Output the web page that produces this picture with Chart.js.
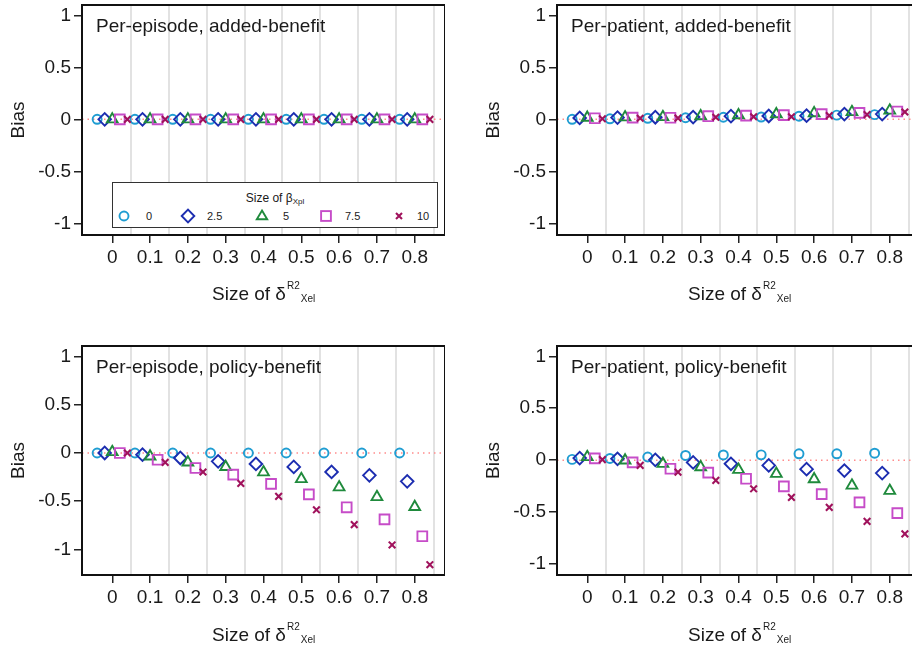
<!DOCTYPE html>
<html>
<head>
<meta charset="utf-8">
<script src="https://cdn.jsdelivr.net/npm/chart.js@4.4.1/dist/chart.umd.min.js"></script>
<style>
  html, body { margin: 0; padding: 0; background: #fff; overflow: hidden; width: 912px; height: 652px; }
  body { position: relative; font-family: 'Liberation Sans', Arial, sans-serif; color: #1a1a1a; }
  .panel { position: absolute; width: 445px; height: 326px; }
  .ptitle, .xtitle { position: absolute; font-size: 19px; line-height: 19px; white-space: nowrap; }
  .xtitle .sup, .xtitle .sub { position: relative; font-size: 10px; margin-left: 1px; }
  .xtitle .sup { top: -11.5px; }
  .xtitle .sub { top: 2px; }
  #legend { position: absolute; left: 112px; top: 182px; width: 326px; height: 46px; box-sizing: border-box;
            border: 1.5px solid #333; background: #fff; }
  #legend .ltitle { position: absolute; left: 0; right: 0; top: 9px; text-align: center; font-size: 12px; line-height: 12px; }
  #legend .ltitle sub { font-size: 8px; vertical-align: -2px; }
  #legend .item { position: absolute; top: 24px; height: 18px; }
  #legend .lab { position: absolute; font-size: 11px; line-height: 18px; top: 0; color: #222; }
</style>
</head>
<body>

<div class="panel" style="left:0px;top:0px"><canvas id="c1"></canvas></div>
<div class="panel" style="left:475px;top:0px"><canvas id="c2"></canvas></div>
<div class="panel" style="left:0px;top:341px"><canvas id="c3"></canvas></div>
<div class="panel" style="left:475px;top:341px"><canvas id="c4"></canvas></div>

<div class="ptitle" style="left:96px;top:15.5px">Per-episode, added-benefit</div>
<div class="ptitle" style="left:571px;top:15.5px">Per-patient, added-benefit</div>
<div class="ptitle" style="left:96px;top:357px">Per-episode, policy-benefit</div>
<div class="ptitle" style="left:571px;top:357px">Per-patient, policy-benefit</div>

<div class="xtitle" style="left:212px;top:284px">Size of δ<span class="sup">R2</span><span class="sub">Xel</span></div>
<div class="xtitle" style="left:688px;top:284px">Size of δ<span class="sup">R2</span><span class="sub">Xel</span></div>
<div class="xtitle" style="left:212px;top:625px">Size of δ<span class="sup">R2</span><span class="sub">Xel</span></div>
<div class="xtitle" style="left:688px;top:625px">Size of δ<span class="sup">R2</span><span class="sub">Xel</span></div>

<div id="legend"><div class="ltitle">Size of β<sub>Xpl</sub></div></div>

<script>
// x categories (size of delta R2) and legend levels (size of beta)
const deltaR2 = [0, 0.1, 0.2, 0.3, 0.4, 0.5, 0.6, 0.7, 0.8];
const betaLevels = ['0', '2.5', '5', '7.5', '10'];
const yTicks = [-1, -0.5, 0, 0.5, 1];

// bias per panel, one row per beta level (0, 2.5, 5, 7.5, 10)
const episodeAdded = [
  [0, 0, 0, 0, 0, 0, 0, 0, 0],
  [0, 0, 0, 0, 0, 0, 0, 0, 0],
  [0, 0, 0, 0, 0, 0, 0, 0, 0],
  [0, 0, 0, 0, 0, 0, 0, 0, 0],
  [0, 0, 0, 0, 0, 0, 0, 0, 0]
];
const patientAdded = [
  [0, 0.005, 0.01, 0.015, 0.02, 0.022, 0.03, 0.04, 0.045],
  [0.013, 0.017, 0.02, 0.022, 0.03, 0.032, 0.035, 0.05, 0.05],
  [0.016, 0.02, 0.022, 0.03, 0.04, 0.05, 0.06, 0.07, 0.085],
  [0.01, 0.017, 0.015, 0.03, 0.035, 0.04, 0.05, 0.062, 0.075],
  [0.005, 0.01, 0.012, 0.02, 0.025, 0.025, 0.035, 0.045, 0.07]
];
const episodePolicy = [
  [0, 0, 0, 0, 0, 0, 0, 0, 0],
  [0, -0.017, -0.052, -0.087, -0.114, -0.145, -0.197, -0.232, -0.294],
  [0.01, -0.035, -0.097, -0.145, -0.2, -0.27, -0.356, -0.457, -0.56],
  [0, -0.07, -0.156, -0.225, -0.32, -0.43, -0.564, -0.69, -0.865],
  [0, -0.097, -0.197, -0.315, -0.45, -0.59, -0.744, -0.955, -1.16]
];
const patientPolicy = [
  [0.007, 0.016, 0.03, 0.045, 0.05, 0.051, 0.061, 0.061, 0.067],
  [0.02, 0.013, 0.003, -0.022, -0.035, -0.051, -0.087, -0.1, -0.125],
  [0.03, -0.003, -0.035, -0.067, -0.093, -0.131, -0.183, -0.244, -0.295],
  [0.017, -0.022, -0.083, -0.12, -0.179, -0.253, -0.327, -0.407, -0.51],
  [0.005, -0.05, -0.115, -0.195, -0.276, -0.359, -0.455, -0.59, -0.71]
];

// styling
const dodge = [-0.04, -0.02, 0, 0.02, 0.04];
const markers = [
  { style: 'circle',   color: '#1f9dd2', r: 4.5, w: 1.9 },
  { style: 'rectRot',  color: '#1c2db0', r: 6.3, w: 1.9 },
  { style: 'triangle', color: '#1f8a3c', r: 6.2, w: 1.9 },
  { style: 'rect',     color: '#c64cc8', r: 6.9, w: 1.9 },
  { style: 'crossRot', color: '#a0125c', r: 4.7, w: 2.1 }
];
const xMin = -0.08, xMax = 0.88;

Chart.defaults.font.family = "'Liberation Sans', Arial, sans-serif";
Chart.defaults.color = '#1a1a1a';

const framePlugin = {
  id: 'frame',
  afterDraw(chart) {
    const a = chart.chartArea, ctx = chart.ctx;
    ctx.save();
    ctx.strokeStyle = '#111';
    ctx.lineWidth = 2;
    ctx.strokeRect(a.left, a.top, a.right - a.left, a.bottom - a.top);
    ctx.restore();
  }
};

function makePanel(id, series, yMin, yMax, axisH) {
  const datasets = series.map((vals, i) => ({
    label: betaLevels[i],
    data: vals.map((v, j) => ({ x: deltaR2[j] + dodge[i], y: v })),
    pointStyle: markers[i].style,
    pointRadius: markers[i].r,
    pointBorderWidth: markers[i].w,
    borderColor: markers[i].color,
    backgroundColor: 'rgba(0,0,0,0)',
    order: 5 - i
  }));
  datasets.push({
    label: 'zero',
    data: [{ x: xMin, y: 0 }, { x: xMax, y: 0 }],
    showLine: true,
    borderColor: '#ff8c8c',
    borderWidth: 1.5,
    borderDash: [1.5, 4],
    pointRadius: 0,
    order: 10
  });

  new Chart(document.getElementById(id), {
    type: 'scatter',
    data: { datasets },
    plugins: [framePlugin],
    options: {
      responsive: true,
      maintainAspectRatio: false,
      animation: false,
      events: [],
      layout: { autoPadding: false, padding: { top: 5, left: 0, right: 0, bottom: 0 } },
      plugins: { legend: { display: false }, tooltip: { enabled: false } },
      scales: {
        x: {
          type: 'linear', min: xMin, max: xMax, position: 'bottom',
          afterBuildTicks: s => { s.ticks = deltaR2.map(v => ({ value: v })); },
          afterFit: s => { s.height = axisH; s.paddingLeft = 0; s.paddingRight = 0; },
          grid: { drawOnChartArea: false, drawTicks: true, tickLength: 8, color: '#222', lineWidth: 1.5 },
          border: { display: false },
          ticks: { autoSkip: false, maxRotation: 0, padding: 3, font: { size: 19 }, callback: v => String(v) }
        },
        xg: {
          type: 'linear', min: xMin, max: xMax, position: 'bottom',
          afterBuildTicks: s => { s.ticks = deltaR2.map(v => ({ value: v + 0.05 })); },
          afterFit: s => { s.height = 0; s.paddingLeft = 0; s.paddingRight = 0; },
          grid: { drawTicks: false, color: '#e2e2e2', lineWidth: 2 },
          border: { display: false },
          ticks: { display: false }
        },
        y: {
          type: 'linear', min: yMin, max: yMax,
          afterBuildTicks: s => { s.ticks = yTicks.map(v => ({ value: v })); },
          afterFit: s => { s.width = 82; s.paddingTop = 0; s.paddingBottom = 0; },
          grid: { drawOnChartArea: false, drawTicks: true, tickLength: 8, color: '#222', lineWidth: 1.5 },
          border: { display: false },
          ticks: { padding: 3, font: { size: 19 }, callback: v => String(v) },
          title: { display: true, text: 'Bias', font: { size: 19 }, padding: { top: 7, bottom: 0 } }
        }
      }
    }
  });
}

makePanel('c1', episodeAdded, -1.112, 1.099, 91);
makePanel('c2', patientAdded, -1.112, 1.099, 91);
makePanel('c3', episodePolicy, -1.267, 1.111, 92);
makePanel('c4', patientPolicy, -1.106, 1.099, 92);

// legend inside the first panel
function markerSvg(m) {
  const c = m.color, sw = m.w;
  let shape;
  if (m.style === 'circle') shape = `<circle cx="8" cy="8" r="4.5" fill="none" stroke="${c}" stroke-width="${sw}"/>`;
  else if (m.style === 'rectRot') shape = `<polygon points="1.7,8 8,1.7 14.3,8 8,14.3" fill="none" stroke="${c}" stroke-width="${sw}"/>`;
  else if (m.style === 'triangle') shape = `<polygon points="8,2.5 13.2,11.2 2.8,11.2" fill="none" stroke="${c}" stroke-width="${sw}"/>`;
  else if (m.style === 'rect') shape = `<rect x="3.1" y="3.1" width="9.8" height="9.8" fill="none" stroke="${c}" stroke-width="${sw}"/>`;
  else shape = `<path d="M5,5 L11,11 M11,5 L5,11" stroke="${c}" stroke-width="${sw}"/>`;
  return `<svg width="16" height="16" style="position:absolute;left:0;top:1px">${shape}</svg>`;
}
const legendMarkX = [11, 75, 149, 213, 286];
const legendLabX = [33, 94, 170, 232, 304];
const legend = document.getElementById('legend');
betaLevels.forEach((lab, i) => {
  const item = document.createElement('div');
  item.className = 'item';
  item.style.left = (legendMarkX[i] - 8) + 'px';
  item.innerHTML = markerSvg(markers[i]) +
    `<span class="lab" style="left:${legendLabX[i] - legendMarkX[i] + 8}px">${lab}</span>`;
  legend.appendChild(item);
});
</script>
</body>
</html>
